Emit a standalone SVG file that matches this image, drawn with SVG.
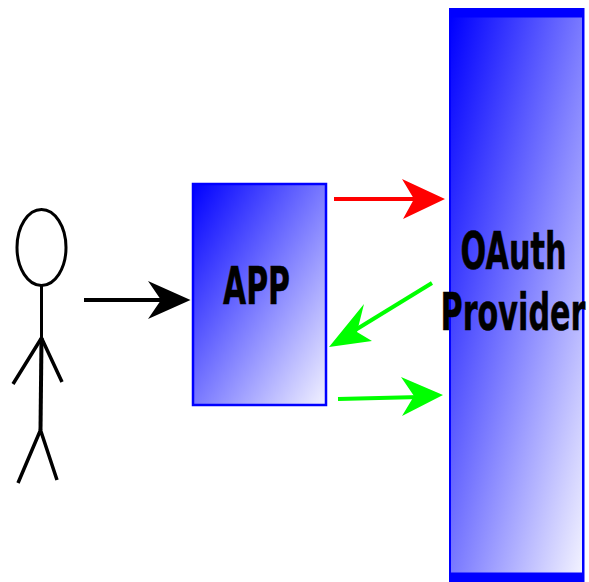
<svg xmlns="http://www.w3.org/2000/svg" width="589" height="582" viewBox="0 0 589 582">
<style>
.l{font-family:"DejaVu Sans",sans-serif;font-weight:bold;font-size:51px;fill:#000;stroke:#000;stroke-width:0.500;text-anchor:start}
.s{fill:none;stroke:#000;stroke-width:3.500;stroke-linecap:butt}
.c{fill:none;stroke-width:4}
</style>
<defs>
<linearGradient id="g" x1="0" y1="0" x2="1" y2="1"><stop offset="0" stop-color="#00f"/><stop offset="1" stop-color="#f2f2ff"/></linearGradient>
</defs>
<g id="provider">
<rect x="449" y="8" width="136" height="574" fill="#00f"/>
<rect x="584" y="8" width="1" height="574" fill="#8080ff"/>
<rect x="451" y="17.500" width="131" height="555" fill="url(#g)"/>
<text class="l" x="460.500" y="269" textLength="106" lengthAdjust="spacingAndGlyphs">OAuth</text>
<text class="l" x="440.500" y="329.500" textLength="145" lengthAdjust="spacingAndGlyphs">Provider</text>
</g>
<g id="app">
<rect x="193" y="184" width="133" height="221" fill="url(#g)" stroke="#00f" stroke-width="2.500"/>
<text class="l" x="223" y="304" textLength="67" lengthAdjust="spacingAndGlyphs">APP</text>
</g>
<g id="actor">
<ellipse cx="41.500" cy="247.500" rx="24.500" ry="38" fill="#fff" stroke="#000" stroke-width="3"/>
<path class="s" style="stroke-width:3" d="M41.500 286V338"/>
<path class="s" d="M41.500 338L13 384M41.500 338L62 382"/>
<path class="s" style="stroke-width:4" d="M41.500 338L40.500 430"/>
<path class="s" d="M40.500 430L18 483M40.500 430L57 480"/>
</g>
<g id="connectors">
<path class="c" stroke="#000" d="M84 300H165"/>
<path fill="#000" d="M190.500 300L148 281L161 300L148 319Z"/>
<path class="c" stroke="#f00" d="M334 199H420"/>
<path fill="#f00" d="M445 199L402 179L414 199L403 219Z"/>
<path class="c" stroke="#0f0" d="M432 283L352 332"/>
<path fill="#0f0" d="M329 347L372 341L357 332L364 304Z"/>
<path class="c" stroke="#0f0" d="M338 399L420 397"/>
<path fill="#0f0" d="M443 395L401 377L414 396L402 416Z"/>
</g>
</svg>
